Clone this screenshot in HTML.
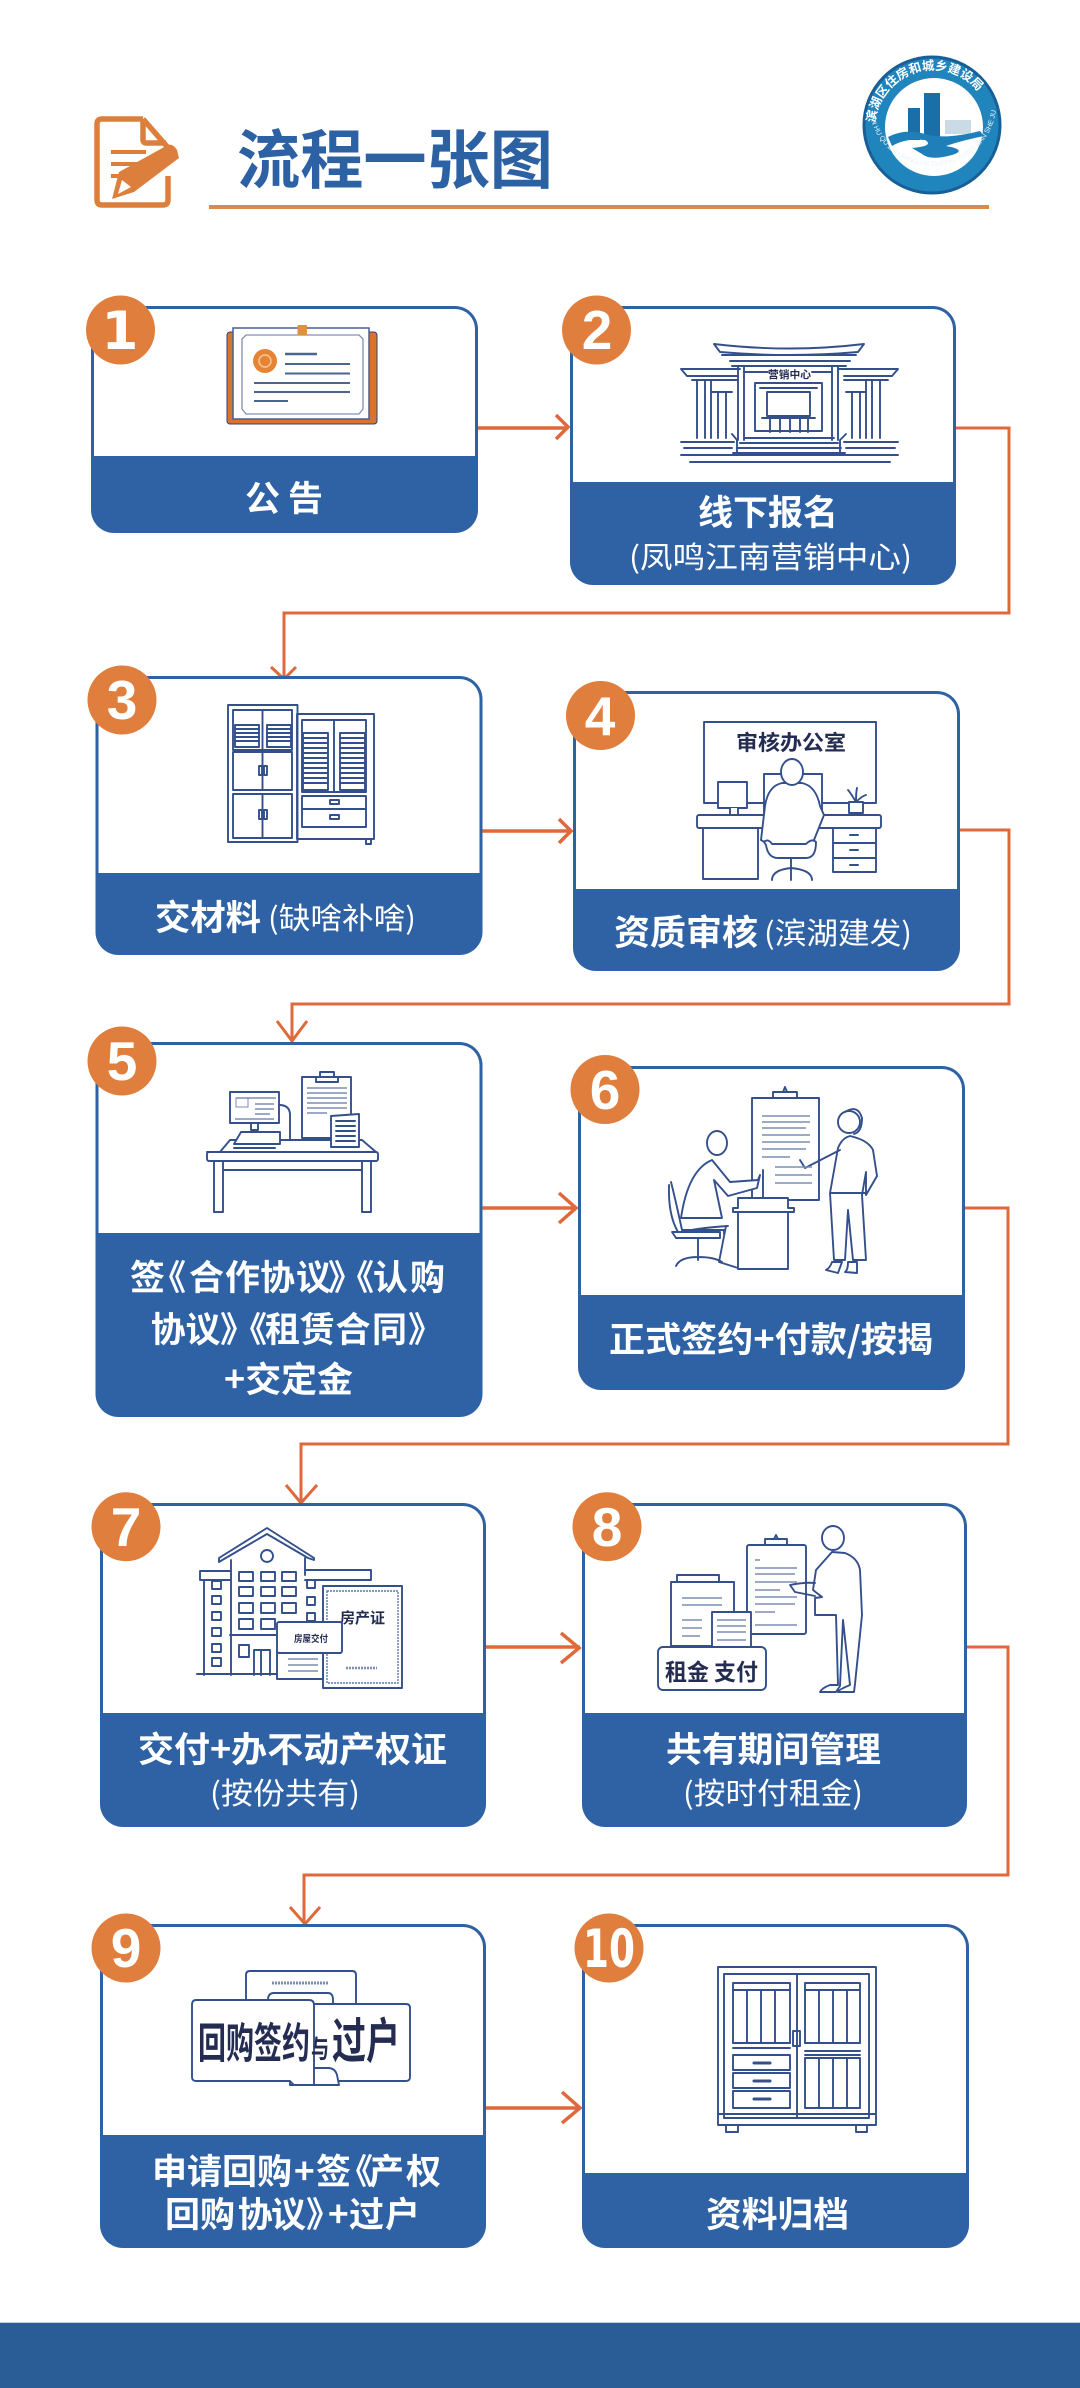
<!DOCTYPE html>
<html lang="zh"><head><meta charset="utf-8"><title>流程一张图</title>
<style>
html,body{margin:0;padding:0;background:#fff;width:1080px;height:2388px;overflow:hidden}
svg{display:block}
text{font-family:"Liberation Sans","Noto Sans CJK SC",sans-serif}
.t{fill:#fff;font-size:35px;font-weight:700;font-family:"Noto Sans CJK SC",sans-serif}
.s{fill:#fff;font-size:30px;font-weight:400;font-family:"Noto Sans CJK SC",sans-serif}
.n{fill:#fff;font-size:55px;font-weight:700;text-anchor:middle;font-family:"Liberation Sans",sans-serif}
.m{fill:#fff;font-size:53px;font-weight:700;text-anchor:middle;font-family:"DejaVu Sans",sans-serif}
.b{fill:#e07e3d}
.c{fill:#2f62a5}
.w{fill:#fff}
.l{fill:none;stroke:#34508c;stroke-width:1.9;stroke-linejoin:round;stroke-linecap:round}
.f{fill:#fff;stroke:#34508c;stroke-width:1.9;stroke-linejoin:round}
.g{fill:none;stroke:#7b8db3;stroke-width:1.6}
.a{fill:none;stroke:#e0693c;stroke-width:3}
.h{fill:none;stroke:#e0693c;stroke-width:3.5}
.d{fill:#252c52;font-family:"Noto Sans CJK SC",sans-serif;font-weight:700}
</style></head><body>
<svg xmlns="http://www.w3.org/2000/svg" width="1080" height="2388" viewBox="0 0 1080 2388">
<rect width="1080" height="2388" fill="#fff"/>

<!-- header icon -->
<g fill="none" stroke="#dd7f3c" stroke-width="5.5" stroke-linejoin="round">
<path d="M143,119H102Q97,119 97,124V200Q97,205 102,205H163Q168,205 168,200V176"/>
<path d="M143,119L170,150M143,119V140Q143,143 147,143H166"/>
</g>
<g stroke="#dd7f3c" stroke-width="4"><path d="M111,152H146M111,164H138M111,176H125"/></g>
<path d="M112,199L119,172L166,146Q172,142 177,150L179,158L134,192Z" fill="#dd7f3c"/>
<path d="M118,194L122,180L131,187Z" fill="#fff"/>
<text x="237" y="183" font-size="64" font-weight="700" fill="#2c62a3" textLength="316" lengthAdjust="spacingAndGlyphs" style="font-family:'Noto Sans CJK SC',sans-serif">流程一张图</text>
<rect x="209" y="205" width="780" height="4" fill="#db8a4b"/>

<!-- logo -->
<circle cx="932" cy="125" r="68" fill="#2185bd" stroke="#195f97" stroke-width="3"/>
<circle cx="934" cy="127" r="49" fill="#fff"/>
<defs>
<path id="arcT" d="M875,128A58,58 0 1 1 991,128"/>
<path id="arcB" d="M869,110A64,64 0 0 0 996,110"/>
</defs>
<text font-size="12.5" font-weight="700" fill="#fff" style="font-family:'Noto Sans CJK SC',sans-serif"><textPath href="#arcT" startOffset="5">滨湖区住房和城乡建设局</textPath></text>
<text font-size="7" fill="#e8f4fb" style="font-family:'Liberation Sans',sans-serif"><textPath href="#arcB" startOffset="4">BIN HU QU ZHU FANG HE CHENG XIANG JIAN SHE JU</textPath></text>
<rect x="924" y="93" width="16" height="47" fill="#1a6fa8"/>
<rect x="908" y="108" width="12" height="32" fill="#1a6fa8"/>
<path d="M945,120h26v14h-26z" fill="#cbdbe5"/>
<path d="M888,137Q905,128 925,134T980,131L984,136Q960,141 946,146Q968,150 952,155Q930,161 922,154L912,148Q935,146 925,140Q905,138 892,146Z" fill="#1f7fb8"/>

<!-- connectors -->
<path class="a" d="M956,428H1009V613H284V678"/>
<path class="a" d="M271,667L284,679L296,667"/>
<path class="a" d="M960,830H1009V1004H292V1041"/>
<path class="a" d="M277,1021L292,1041L307,1021"/>
<path class="a" d="M965,1208H1008V1444H301V1502"/>
<path class="a" d="M286,1485L301,1503L317,1485"/>
<path class="a" d="M967,1647H1008V1875H304V1923"/>
<path class="a" d="M290,1907L305,1924L320,1907"/>
<path class="h" d="M478,428H568M556,415L568,427L556,439"/>
<path class="h" d="M482,831H571M559,819L571,831L559,843"/>
<path class="h" d="M482,1208H576M559,1193L576,1208L559,1223"/>
<path class="h" d="M486,1647H580M561,1633L579,1648L561,1663"/>
<path class="h" d="M486,2108H580M562,2092L580,2108L562,2123"/>

<!-- cards -->
<rect class="c" x="91" y="306" width="387" height="227" rx="23"/><rect class="w" x="94" y="309" width="381" height="170" rx="20"/><rect class="c" x="91" y="456" width="387" height="50"/>
<rect class="c" x="570" y="306" width="386" height="279" rx="23"/><rect class="w" x="573" y="309" width="380" height="200" rx="20"/><rect class="c" x="570" y="482" width="386" height="50"/>
<rect class="c" x="95.5" y="676" width="387" height="279" rx="23"/><rect class="w" x="98.5" y="679" width="381" height="220" rx="20"/><rect class="c" x="95.5" y="873" width="387" height="40"/>
<rect class="c" x="573" y="691" width="387" height="280" rx="23"/><rect class="w" x="576" y="694" width="381" height="220" rx="20"/><rect class="c" x="573" y="889" width="387" height="40"/>
<rect class="c" x="95.5" y="1042" width="387" height="375" rx="23"/><rect class="w" x="98.5" y="1045" width="381" height="210" rx="20"/><rect class="c" x="95.5" y="1233" width="387" height="40"/>
<rect class="c" x="578" y="1066" width="387" height="324" rx="23"/><rect class="w" x="581" y="1069" width="381" height="250" rx="20"/><rect class="c" x="578" y="1295" width="387" height="40"/>
<rect class="c" x="100" y="1503" width="386" height="324" rx="23"/><rect class="w" x="103" y="1506" width="380" height="230" rx="20"/><rect class="c" x="100" y="1713" width="386" height="40"/>
<rect class="c" x="582" y="1503" width="385" height="324" rx="23"/><rect class="w" x="585" y="1506" width="379" height="230" rx="20"/><rect class="c" x="582" y="1713" width="385" height="40"/>
<rect class="c" x="100" y="1924" width="386" height="324" rx="23"/><rect class="w" x="103" y="1927" width="380" height="230" rx="20"/><rect class="c" x="100" y="2135" width="386" height="40"/>
<rect class="c" x="582" y="1924" width="387" height="324" rx="23"/><rect class="w" x="585" y="1927" width="381" height="270" rx="20"/><rect class="c" x="582" y="2173" width="387" height="40"/>

<!-- badges -->
<circle class="b" cx="120.5" cy="330" r="34.5"/><text class="m" x="120" y="349">1</text>
<circle class="b" cx="596.5" cy="330" r="34.5"/><text class="n" x="597" y="349">2</text>
<circle class="b" cx="122" cy="700" r="34.5"/><text class="n" x="122" y="719">3</text>
<circle class="b" cx="600.5" cy="715.5" r="34.5"/><text class="n" x="600" y="735">4</text>
<circle class="b" cx="122" cy="1061" r="34.5"/><text class="n" x="122" y="1080">5</text>
<circle class="b" cx="605" cy="1089.5" r="34.5"/><text class="n" x="605" y="1109">6</text>
<circle class="b" cx="126" cy="1526.7" r="34.5"/><text class="n" x="126" y="1546">7</text>
<circle class="b" cx="607" cy="1526.7" r="34.5"/><text class="n" x="607" y="1546">8</text>
<circle class="b" cx="126" cy="1948" r="34.5"/><text class="n" x="126" y="1967">9</text>
<circle class="b" cx="609" cy="1948" r="34.5"/><text class="m" x="609" y="1967" textLength="52" lengthAdjust="spacingAndGlyphs">10</text>

<!-- labels -->
<text class="t" x="245" y="511" textLength="78" lengthAdjust="spacing">公告</text>
<text class="t" x="698" y="525" textLength="140" lengthAdjust="spacingAndGlyphs">线下报名</text>
<text class="s" x="629" y="568" textLength="283" lengthAdjust="spacingAndGlyphs">(凤鸣江南营销中心)</text>
<text class="t" x="155" y="930" textLength="106" lengthAdjust="spacingAndGlyphs">交材料</text>
<text class="s" x="268" y="929" textLength="148" lengthAdjust="spacingAndGlyphs">(缺啥补啥)</text>
<text class="t" x="614" y="945" textLength="144" lengthAdjust="spacingAndGlyphs">资质审核</text>
<text class="s" x="764" y="944" textLength="148" lengthAdjust="spacingAndGlyphs">(滨湖建发)</text>
<text class="t" x="130 151 189 225 260 296 328 339 373 410" y="1290">签《合作协议》《认购</text>
<text class="t" x="150.6 185.5 220 232 265 300 335.5 372 408" y="1342">协议》《租赁合同》</text>
<text class="t" x="224" y="1392" textLength="129" lengthAdjust="spacingAndGlyphs">+交定金</text>
<text class="t" x="609" y="1352" textLength="324" lengthAdjust="spacingAndGlyphs">正式签约+付款/按揭</text>
<text class="t" x="138" y="1762" textLength="309" lengthAdjust="spacingAndGlyphs">交付+办不动产权证</text>
<text class="s" x="210" y="1804" textLength="150" lengthAdjust="spacingAndGlyphs">(按份共有)</text>
<text class="t" x="666" y="1762" textLength="215" lengthAdjust="spacingAndGlyphs">共有期间管理</text>
<text class="s" x="683" y="1804" textLength="180" lengthAdjust="spacingAndGlyphs">(按时付租金)</text>
<text class="t" x="152 187 222 257 294 316 338 369 406" y="2184">申请回购+签《产权</text>
<text class="t" x="165 200 237.6 271 306 328 349 385" y="2227">回购协议》+过户</text>
<text class="t" x="706" y="2227" textLength="143" lengthAdjust="spacingAndGlyphs">资料归档</text>

<!-- 1 certificate -->
<rect x="227" y="332" width="150" height="92" rx="3" fill="#d9742f" stroke="#34406f" stroke-width="1"/>
<rect x="233" y="328" width="136" height="91" fill="#fff" stroke="#4a5f92" stroke-width="1.5"/>
<path d="M246,335H359L363,339V409L359,414H246L242,409V339Z" fill="none" stroke="#8090b5" stroke-width="1.3"/>
<rect x="297.5" y="325" width="9.5" height="10" rx="1" fill="#e0903f"/>
<circle cx="265" cy="361" r="12" fill="#e68436"/><circle cx="265" cy="361" r="6" fill="none" stroke="#f8c79a" stroke-width="1.5"/>
<g stroke="#4c658f" stroke-width="2"><path d="M285,354H317" stroke-width="2.5"/><path d="M285,364H350M285,373.5H350M254,383H350M254,392H350M254,401H288"/></g>

<!-- 2 building -->
<g class="l">
<path d="M714,344Q790,353 864,344L858,352Q790,358 720,352Z"/>
<path d="M722,355H856M730,361H850M732,366H846"/>
<path d="M738,366V440M744,366V440M838,366V440M832,366V440"/>
<path d="M744,372H768M812,372H832"/>
<path d="M681,369H740M838,369H898L892,376H844M681,369L687,376H738M692,380H738M844,380H888"/>
<path d="M697,380V438M705,380V438M711,380V438M880,380V438M872,380V438M866,380V438"/>
<path d="M718,392V438M726,392V438M852,392V438M860,392V438M711,392H732M846,392H866"/>
<path d="M755,383H822V431H755ZM760,388H817"/>
<rect x="767" y="392" width="43" height="24"/>
<path d="M762,418H815M770,418V432M780,418V432M790,418V432M800,418V432M808,418V432"/>
<path d="M732,434L737,440V455M846,434L840,440V455"/>
<path d="M744,438H834M740,443H838M737,448H841M733,453H845"/>
<path d="M681,442H734M844,442H898M684,448H732M846,448H895M681,455H898M690,462H890"/>
</g>
<text x="768" y="378" font-size="10.5" class="d" textLength="43" lengthAdjust="spacingAndGlyphs">营销中心</text>

<!-- 3 cabinets -->
<g class="l">
<rect x="297" y="714" width="77" height="125"/><rect x="302" y="720" width="64" height="72"/><path d="M334,720V792"/>
<rect x="303" y="733" width="25" height="57"/><rect x="340" y="733" width="25" height="57"/>
<path d="M303,738H328M303,743H328M303,748H328M303,753H328M303,758H328M303,763H328M303,768H328M303,773H328M303,778H328M303,783H328M340,738H365M340,743H365M340,748H365M340,753H365M340,758H365M340,763H365M340,768H365M340,773H365M340,778H365M340,783H365"/>
<rect x="302" y="796" width="64" height="13"/><rect x="302" y="809" width="64" height="18"/>
<rect x="330" y="800" width="9" height="4"/><rect x="330" y="815" width="9" height="4"/>
<path d="M366,839V844H371V839"/>
<rect x="228" y="705" width="69.5" height="137"/><rect x="233" y="710" width="59" height="40"/><rect x="233" y="752" width="59" height="38"/><rect x="233" y="794" width="59" height="44"/>
<path d="M262.5,710V750M262.5,752V790M262.5,794V838"/>
<rect x="235" y="725" width="24" height="22"/><rect x="267" y="725" width="24" height="22"/>
<path d="M235,729H259M235,733H259M235,737H259M235,741H259M267,729H291M267,733H291M267,737H291M267,741H291"/>
<rect x="259" y="766" width="3" height="9"/><rect x="264" y="766" width="3" height="9"/><rect x="259" y="810" width="3" height="9"/><rect x="264" y="810" width="3" height="9"/>
</g>

<!-- 4 office -->
<g class="l">
<rect x="704" y="722" width="172" height="81"/>
<rect x="764" y="774" width="58" height="40" fill="#fff"/>
<rect class="f" x="718" y="782" width="29" height="26"/>
<path class="f" d="M730,808V815H738V808M722,816H742"/>
<rect class="f" x="697" y="815" width="184" height="13" rx="2"/>
<rect x="703" y="828" width="55" height="51"/><rect x="833" y="828" width="43" height="44"/>
<path d="M833,843H876M833,858H876M850,835H858M850,850H858M850,865H858"/>
<path class="f" d="M849,802H863V813H849Z"/>
<path d="M856,802Q850,792 848,790M856,802Q856,792 857,788M856,802Q862,796 866,795"/>
<path class="f" d="M761,840L765,806Q768,786 782,783H802Q816,786 820,806L824,815L818,830L812,845H770Z"/>
<ellipse class="f" cx="792" cy="772" rx="11" ry="13"/>
<path class="f" d="M766,845Q768,858 778,858H806Q816,858 816,842Q812,838 806,844H772Q768,838 764,842Z"/>
<path d="M791,858V868M772,880Q772,870 791,868Q812,870 812,880M791,868V880"/>
</g>
<text x="736" y="750" font-size="21" class="d" textLength="110" lengthAdjust="spacingAndGlyphs">审核办公室</text>

<!-- 5 desk -->
<g class="l">
<rect x="230" y="1092" width="49" height="31"/><path d="M251,1123V1130H258V1123M245,1132H264"/>
<path d="M279,1105Q290,1105 290,1115V1140"/>
<rect x="302" y="1077" width="49" height="61"/><path d="M320,1077V1072H334V1077M316,1077H338V1082H316Z"/>
<path class="f" d="M220,1152L230,1140H362L376,1152H207Z"/>
<rect class="f" x="207" y="1152" width="171" height="9" rx="2"/>
<path d="M214,1161V1212H223V1161M362,1161V1212H371V1161M223,1170V1198M362,1170V1198M223,1170H362"/>
<path class="f" d="M234,1144L241,1132H280V1144Z"/><path d="M234,1148H275"/>
<path class="f" d="M331,1116L359,1114V1147H331Z"/>
<path d="M336,1121H355M336,1126H355M336,1131H355M336,1136H355M336,1141H355"/>
</g>
<g class="g"><path d="M236,1098H276M255,1104H274M255,1109H274M255,1114H270M235,1119H274M307,1088H347M307,1093H347M307,1098H347M307,1103H347M307,1108H347M307,1113H327"/></g>
<rect x="236" y="1098" width="12" height="9" fill="none" stroke="#7b8db3"/>

<!-- 6 meeting -->
<g class="l">
<rect x="752" y="1098" width="67" height="102"/><path d="M773,1098V1092H797V1098M783,1092L785,1087L787,1092"/>
<ellipse cx="849" cy="1122" rx="11" ry="11"/>
<path d="M845,1112Q858,1104 862,1118Q862,1132 854,1134"/>
<path class="f" d="M830,1193L838,1148Q842,1138 850,1136Q868,1140 873,1150L877,1176L866,1195V1172L862,1195L866,1260H853L848,1210L845,1260H834Z"/>
<path d="M831,1193H866M840,1150L805,1168L800,1160"/>
<path class="f" d="M832,1262Q830,1268 826,1270L838,1273L842,1262ZM848,1262Q848,1270 845,1272L857,1273L857,1262Z"/>
<ellipse class="f" cx="717" cy="1143" rx="10" ry="12"/>
<path class="f" d="M681,1218Q688,1170 712,1160L730,1182L758,1180L760,1175L757,1188L728,1196L714,1180L722,1218Z"/>
<path d="M671,1182Q676,1202 682,1230H724V1234M669,1185Q668,1215 678,1232L682,1232Q698,1228 728,1226"/>
<path d="M672,1232H720V1238H676ZM698,1238V1260M676,1266Q680,1257 698,1257Q714,1257 722,1262"/>
<path d="M726,1226L719,1262L738,1268"/>
<path class="f" d="M738,1198H788V1208H794V1212H733V1208H738Z"/>
<rect class="f" x="738" y="1212" width="50" height="57"/>
<path d="M763,1198V1170"/>
</g>
<g class="g"><path d="M762,1116H810M762,1122H810M762,1128H806M762,1135H810M762,1142H810M762,1149H806M762,1157H790M775,1167H812M775,1175H812M775,1183H812"/></g>

<!-- 7 house -->
<g class="l">
<path d="M219,1558L267,1528L314,1558L314,1560L308,1558L267,1534L224,1559L219,1562Z"/>
<ellipse cx="267" cy="1556" rx="6" ry="6"/>
<path d="M231,1560V1675M305,1558V1575M231,1571H200V1580H231M305,1570H371V1580H305"/>
<path d="M204,1580V1675M197,1674H323"/>
<rect x="239" y="1572" width="14" height="9"/><rect x="261" y="1572" width="14" height="9"/><rect x="282" y="1572" width="14" height="9"/>
<rect x="239" y="1587" width="14" height="9"/><rect x="261" y="1587" width="14" height="9"/><rect x="282" y="1587" width="14" height="9"/>
<rect x="239" y="1603" width="14" height="10"/><rect x="261" y="1603" width="14" height="10"/><rect x="282" y="1603" width="14" height="10"/>
<rect x="239" y="1619" width="14" height="10"/><rect x="261" y="1619" width="14" height="10"/>
<rect x="212" y="1581" width="9" height="8"/><rect x="212" y="1596" width="9" height="8"/><rect x="212" y="1612" width="9" height="8"/><rect x="212" y="1628" width="9" height="8"/><rect x="212" y="1644" width="9" height="8"/><rect x="212" y="1658" width="9" height="8"/>
<rect x="307" y="1580" width="8" height="8"/><rect x="307" y="1597" width="8" height="8"/><rect x="307" y="1613" width="8" height="8"/>
<rect x="239" y="1645" width="10" height="12"/>
<path d="M254,1675V1650H270V1675M261,1650V1675M230,1635H276"/>
</g>
<rect class="f" x="323" y="1586" width="79" height="102"/>
<rect x="327" y="1591" width="71" height="92" fill="none" stroke="#5f77a6" stroke-width="1.4" stroke-dasharray="2 1"/>
<text x="340" y="1623" font-size="15" class="d" textLength="45" lengthAdjust="spacingAndGlyphs">房产证</text>
<path d="M346,1668H377" stroke="#7b8db3" stroke-width="2.5" stroke-dasharray="2 1"/>
<rect class="f" x="277" y="1650" width="46" height="29"/>
<path class="g" d="M288,1659H318M288,1665H318M288,1671H318"/>
<rect class="f" x="277" y="1622" width="65" height="31" rx="2"/>
<text x="294" y="1642" font-size="9.5" class="d" textLength="34" lengthAdjust="spacingAndGlyphs">房屋交付</text>

<!-- 8 rent -->
<g class="l">
<rect class="f" x="747" y="1545" width="59" height="89" rx="2"/><path d="M765,1545V1539H787V1545H765M774,1539L776,1535L778,1539"/>
<ellipse class="f" cx="833" cy="1538" rx="11" ry="12"/>
<path class="f" d="M832,1552L816,1570L813,1590L822,1597L815,1598V1615H836L838,1685H830Q822,1688 820,1692H836L840,1686L843,1620L850,1685Q838,1690 838,1692H854L855,1684L862,1615L860,1570Q858,1558 845,1553Z"/>
<path d="M815,1583Q805,1582 790,1585L795,1592L815,1596"/>
<path class="f" d="M677,1582V1575H719V1582M671,1582H734V1646H671Z"/>
<rect class="f" x="712" y="1612" width="39" height="35"/>
<rect class="f" x="658" y="1647" width="108" height="43" rx="5"/>
</g>
<g class="g"><path d="M755,1560H760M755,1568H797M755,1574H795M755,1582H797M755,1590H780M755,1597H797M755,1604H795M755,1612H775M755,1625H797M682,1598H722M682,1605H722M682,1620H702M682,1628H702M682,1636H700M717,1620H746M717,1626H746M717,1632H746M717,1640H746"/></g>
<text x="665" y="1680" font-size="23" class="d" textLength="93" lengthAdjust="spacingAndGlyphs">租金 支付</text>

<!-- 9 buyback -->
<g class="l">
<path class="f" d="M246,2010V1975Q246,1971 250,1971H352Q356,1971 356,1975V2010Z"/>
<path class="f" d="M268,2010V2000Q268,1993 274,1993H328Q333,1993 333,2000V2010Z"/>
<path class="f" d="M310,2004H406Q410,2004 410,2008V2077Q410,2081 406,2081H310Z"/>
<path class="f" d="M290,2085H339L337,2075Q335,2068 328,2068H310V2078H290Z"/>
<path class="f" d="M196,2000H309Q314,2000 314,2005V2085H294L290,2081H196Q192,2081 192,2077V2005Q192,2000 196,2000Z"/>
</g>
<path d="M272,1983H329" stroke="#7b8db3" stroke-width="3" stroke-dasharray="2 1"/>
<g transform="translate(0,2058) scale(1,1.42)">
<text x="198" y="0" font-size="29.5" class="d" textLength="112" lengthAdjust="spacingAndGlyphs">回购签约</text>
<text x="311" y="0" font-size="18" class="d">与</text>
<text x="332" y="0" font-size="34" class="d" textLength="68" lengthAdjust="spacingAndGlyphs">过户</text>
</g>

<!-- 10 filing cabinet -->
<g class="l">
<rect x="718" y="1967" width="158" height="158"/><rect x="724" y="1974" width="145" height="144"/>
<path d="M797,1974V2118M718,2114H876"/>
<path d="M726,2125V2132H738V2125M856,2125V2132H867V2125"/>
<rect x="793" y="2031" width="7" height="15"/>
<rect x="733" y="1983" width="57" height="60"/><rect x="805" y="1983" width="55" height="60"/><rect x="805" y="2058" width="55" height="50"/>
<path d="M733,1990H790M805,1990H860M733,2043H790M805,2043H860"/>
<path d="M747,1990V2043M761,1990V2043M775,1990V2043M819,1990V2043M833,1990V2043M847,1990V2043M819,2058V2108M833,2058V2108M847,2058V2108"/>
<path d="M805,2051H860M805,2055H860"/>
<rect x="733" y="2055" width="57" height="15"/><rect x="733" y="2073" width="57" height="15"/><rect x="733" y="2091" width="57" height="17"/>
<path d="M754,2063H770M754,2081H770M754,2099H770" stroke-width="3"/>
<path d="M733,2048H790"/>
</g>

<rect x="0" y="2322" width="1080" height="1" fill="#b9d2e8"/>
<rect x="0" y="2323" width="1080" height="65" fill="#2a5c95"/>
</svg>
</body></html>
